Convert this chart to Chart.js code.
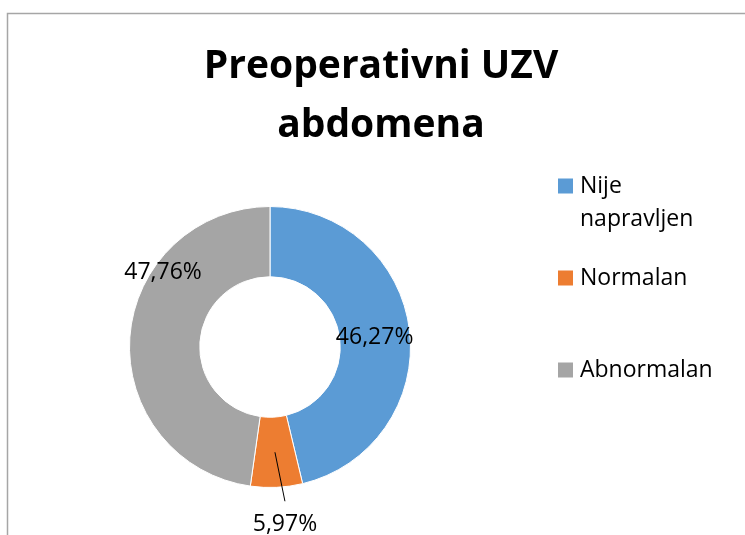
<!DOCTYPE html>
<html>
<head>
<meta charset="utf-8">
<script src="https://cdn.jsdelivr.net/npm/chart.js@4.4.1/dist/chart.umd.min.js"></script>
<style>
  html, body { margin: 0; padding: 0; background: #fff; }
  #chart { display: block; }
</style>
</head>
<body>
<canvas id="chart" width="745" height="535"></canvas>
<script>
const titleLines = ['Preoperativni UZV', 'abdomena'];
const categories = ['Nije napravljen', 'Normalan', 'Abnormalan'];
const counts = [31, 4, 32];
const colors = ['#5B9BD5', '#ED7D31', '#A5A5A5'];

const FONT = '"Open Sans", "Noto Sans", sans-serif';
const total = counts.reduce((a, b) => a + b, 0);
const pctText = v => (v / total * 100).toFixed(2).replace('.', ',') + '%';

// frame, title, legend and the data labels are drawn here
const excelLook = {
  id: 'excelLook',
  beforeDraw(chart) {
    const ctx = chart.ctx;
    ctx.save();
    ctx.fillStyle = '#fff';
    ctx.fillRect(0, 0, chart.width, chart.height);
    ctx.strokeStyle = '#A6A6A6';
    ctx.lineWidth = 1.5;
    ctx.beginPath();
    ctx.moveTo(7.5, chart.height + 2);
    ctx.lineTo(7.5, 13.5);
    ctx.lineTo(chart.width + 2, 13.5);
    ctx.stroke();

    ctx.fillStyle = '#000';
    ctx.font = 'bold 39px ' + FONT;
    ctx.textAlign = 'center';
    ctx.textBaseline = 'middle';
    titleLines.forEach((t, i) => ctx.fillText(t, 381, 67 + i * 59));
    ctx.restore();
  },
  afterDatasetsDraw(chart) {
    const ctx = chart.ctx;
    const meta = chart.getDatasetMeta(0);
    ctx.save();
    ctx.font = '23px ' + FONT;
    ctx.fillStyle = '#000';
    ctx.textAlign = 'center';
    ctx.textBaseline = 'middle';
    meta.data.forEach((arc, i) => {
      const p = arc.getProps(['x', 'y', 'startAngle', 'endAngle', 'innerRadius', 'outerRadius'], true);
      const mid = (p.startAngle + p.endAngle) / 2;
      const midR = (p.innerRadius + p.outerRadius) / 2;
      const txt = pctText(counts[i]);
      if (i === 0) {
        ctx.fillText(txt, p.x + Math.cos(mid) * midR, p.y + Math.sin(mid) * midR + 3);
      } else if (i === 1) {
        // small slice: label outside with a leader line
        const x0 = p.x + Math.cos(mid) * midR, y0 = p.y + Math.sin(mid) * midR;
        const x1 = x0 + 10, y1 = y0 + 49;
        ctx.strokeStyle = '#000';
        ctx.lineWidth = 1;
        ctx.beginPath();
        ctx.moveTo(x0, y0);
        ctx.lineTo(x1, y1);
        ctx.stroke();
        ctx.fillText(txt, x1, y1 + 23);
      } else {
        const a = p.endAngle - (p.endAngle - p.startAngle) * 0.32;
        const r = p.outerRadius - 10;
        ctx.fillText(txt, p.x + Math.cos(a) * r, p.y + Math.sin(a) * r);
      }
    });
    ctx.restore();

    // legend
    ctx.save();
    ctx.font = '23px ' + FONT;
    ctx.textBaseline = 'middle';
    ctx.textAlign = 'left';
    categories.forEach((lab, i) => {
      const y = 186 + i * 92;
      ctx.fillStyle = colors[i];
      ctx.fillRect(558, y - 7.5, 15, 15);
      ctx.fillStyle = '#000';
      const words = lab.split(' ');
      let lines = [], cur = '';
      words.forEach(w => {
        const test = cur ? cur + ' ' + w : w;
        if (cur && ctx.measureText(test).width > 135) { lines.push(cur); cur = w; }
        else cur = test;
      });
      lines.push(cur);
      lines.forEach((l, j) => ctx.fillText(l, 580, y + j * 33));
    });
    ctx.restore();
  }
};

new Chart(document.getElementById('chart'), {
  type: 'doughnut',
  data: {
    labels: categories,
    datasets: [{
      data: counts,
      backgroundColor: colors,
      borderColor: '#fff',
      borderWidth: 1
    }]
  },
  options: {
    responsive: false,
    animation: false,
    cutout: '50%',
    layout: { padding: { left: 129, right: 334, top: 206, bottom: 47 } },
    plugins: {
      legend: { display: false },
      title: { display: false },
      tooltip: { enabled: false }
    }
  },
  plugins: [excelLook]
});
</script>
</body>
</html>
